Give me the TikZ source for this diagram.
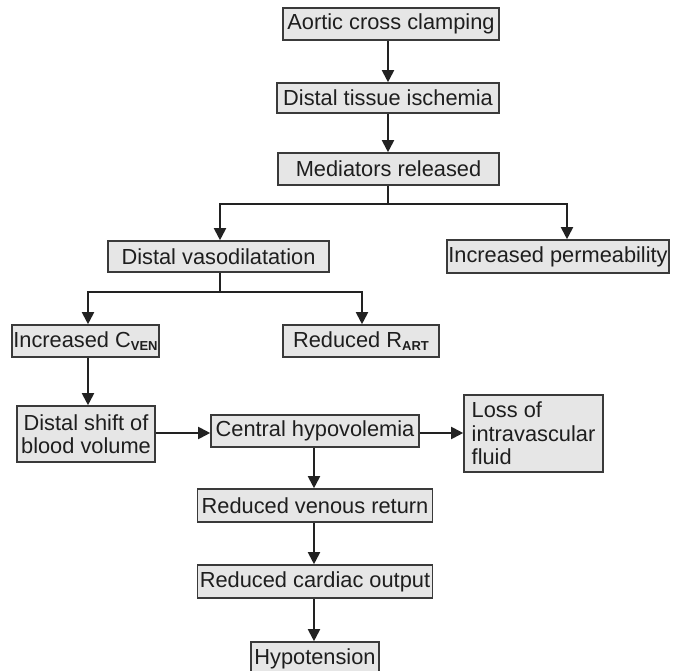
\documentclass[tikz,border=0pt]{standalone}
\usepackage{fontspec}
\setmainfont{Liberation Sans}
\usetikzlibrary{arrows.meta}
\definecolor{boxfill}{HTML}{E6E6E6}
\definecolor{boxline}{HTML}{3A3A3A}
\definecolor{textcol}{HTML}{1E1E1E}
\definecolor{linecol}{HTML}{222222}
\newcommand{\subtag}[1]{\raisebox{-0.32ex}{\fontsize{13}{14}\selectfont\bfseries #1}}
\tikzset{
  flowbox/.style={draw=boxline, fill=boxfill, line width=1.6pt, inner sep=0pt,
    text=textcol, font=\fontsize{21.8}{23.5}\selectfont},
  flowarrow/.style={draw=linecol, line width=1.9pt,
    -{Triangle[length=12pt,width=12pt]}},
  flowline/.style={draw=linecol, line width=1.9pt}
}
\begin{document}
\begin{tikzpicture}[x=1pt,y=-1pt]
\useasboundingbox[fill=white] (0,0) rectangle (678,671);

% boxes
\node[flowbox, minimum width=216, minimum height=32] (aortic) at (391,24) {Aortic cross clamping};
\node[flowbox, minimum width=222, minimum height=30] (ischemia) at (388,98) {Distal tissue ischemia};
\node[flowbox, minimum width=221, minimum height=32] (mediators) at (388.5,169) {Mediators released};
\node[flowbox, minimum width=221, minimum height=31] (vasodil) at (218.5,256.5) {Distal vasodilatation};
\node[flowbox, minimum width=222, minimum height=33] (perm) at (558,256.5) {Increased permeability};
\node[flowbox, minimum width=147, minimum height=32] (cven) at (85.5,341) {Increased C\subtag{VEN}};
\node[flowbox, minimum width=156, minimum height=32] (rart) at (361,341) {Reduced R\subtag{ART}};
\node[flowbox, minimum width=138, minimum height=56, align=center] (shift) at (86,434) {Distal shift of\\blood volume};
\node[flowbox, minimum width=208, minimum height=32] (central) at (315,431) {Central hypovolemia};
\node[flowbox, minimum width=139, minimum height=77, align=left] (loss) at (533.5,433.5) {Loss of\\intravascular\\fluid};
\node[flowbox, minimum width=235, minimum height=33] (venous) at (315,505.5) {Reduced venous return};
\node[flowbox, minimum width=235, minimum height=33] (cardiac) at (315,581.5) {Reduced cardiac output};
\node[flowbox, minimum width=128, minimum height=33] (hypo) at (315,658.5) {Hypotension};

% connectors
\draw[flowarrow] (ischemia.north |- aortic.south) -- (ischemia.north);
\draw[flowarrow] (ischemia.south) -- (mediators.north -| ischemia.south);

\coordinate (msplit) at ([yshift=-18]mediators.south -| ischemia.south);
\draw[flowline] (mediators.south -| ischemia.south) -- (msplit);
\draw[flowarrow] (msplit) -| ([xshift=1.5]vasodil.north);
\draw[flowarrow] (msplit) -| ([xshift=9]perm.north);

\coordinate (vsplit) at ([yshift=-19,xshift=1.5]vasodil.south);
\draw[flowline] ([xshift=1.5]vasodil.south) -- (vsplit);
\draw[flowarrow] (vsplit) -| ([xshift=2.5]cven.north);
\draw[flowarrow] (vsplit) -| ([xshift=1]rart.north);

\draw[flowarrow] ([xshift=2.5]cven.south) -- ([xshift=2]shift.north);
\draw[flowarrow] ([yshift=1]shift.east) -- ([yshift=1]shift.east -| central.west);
\draw[flowarrow] ([yshift=-2]central.east) -- ([yshift=-2]central.east -| loss.west);
\draw[flowarrow] ([xshift=-1]central.south) -- ([xshift=-1]venous.north);
\draw[flowarrow] ([xshift=-1]venous.south) -- ([xshift=-1]cardiac.north);
\draw[flowarrow] ([xshift=-1]cardiac.south) -- ([xshift=-1]hypo.north);
\end{tikzpicture}
\end{document}
